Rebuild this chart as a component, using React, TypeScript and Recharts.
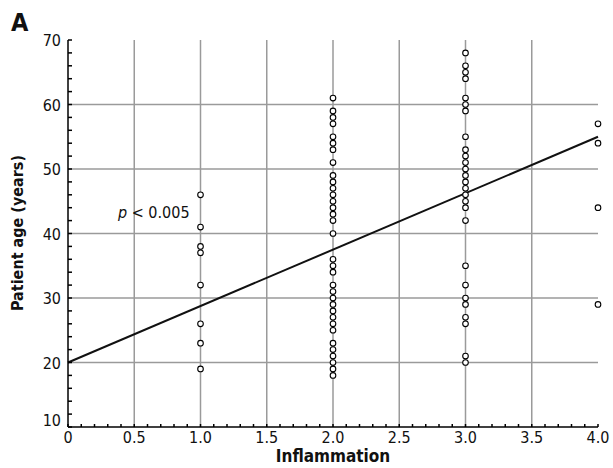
import React from 'react';
import { ScatterChart, Scatter, XAxis, YAxis, ReferenceLine } from 'recharts';

// patient ages grouped by inflammation score
const inflammationLevels = [1, 2, 3, 4];
const agesAt1 = [46, 41, 38, 37, 32, 26, 23, 19];
const agesAt2 = [61, 59, 58, 57, 55, 54, 53, 51, 49, 48, 47, 46, 45, 44, 43, 42, 40, 36, 35, 34, 32, 31, 30, 29, 28, 27, 26, 25, 23, 22, 21, 20, 19, 18];
const agesAt3 = [68, 66, 65, 64, 61, 60, 59, 55, 53, 52, 51, 50, 49, 48, 47, 46, 45, 44, 42, 35, 32, 30, 29, 27, 26, 21, 20];
const agesAt4 = [57, 54, 44, 29];

// fitted regression line end points
const fitX = [0, 4];
const fitY = [20, 55];

const xMajor = [0, 0.5, 1, 1.5, 2, 2.5, 3, 3.5, 4];
const xTickLabels = ['0', '0.5', '1.0', '1.5', '2.0', '2.5', '3.0', '3.5', '4.0'];
const yMajor = [10, 20, 30, 40, 50, 60, 70];

const groups = [agesAt1, agesAt2, agesAt3, agesAt4];
const points = groups.flatMap((ages, i) => ages.map(age => ({ x: inflammationLevels[i], y: age })));

const xMinor = Array.from({ length: 41 }, (_, i) => i / 10);
const yMinor = Array.from({ length: 31 }, (_, i) => 10 + i * 2);

const FONT = '"Liberation Sans Narrow", "DejaVu Sans Condensed", "Roboto Condensed", sans-serif';
const GRID = '#9a9a9a';

const isMajorY = (v: number) => yMajor.includes(v);

const BottomTick = ({ x, y, payload }: any) => {
  const v = payload.value;
  const idx = xMajor.findIndex(m => Math.abs(m - v) < 1e-6);
  return (
    <g>
      <line x1={x} y1={y} x2={x} y2={y - 3} stroke="#000" strokeWidth={1.5} />
      {idx >= 0 && (
        <text x={x} y={y + 16} textAnchor="middle" fontSize={16} fontFamily={FONT} fill="#111">
          {xTickLabels[idx]}
        </text>
      )}
    </g>
  );
};

const TopTick = ({ x, y }: any) => (
  <line x1={x} y1={y} x2={x} y2={y + 3} stroke="#000" strokeWidth={1.5} />
);

const LeftTick = ({ x, y, payload }: any) => (
  <g>
    <line x1={x} y1={y} x2={x + 4} y2={y} stroke="#000" strokeWidth={1.5} />
    {isMajorY(payload.value) && (
      <text x={x - 7} y={y + (payload.value === 10 ? -1 : 6)} textAnchor="end" fontSize={16} fontFamily={FONT} fill="#111">
        {payload.value}
      </text>
    )}
  </g>
);

const RightTick = ({ x, y }: any) => (
  <line x1={x} y1={y} x2={x - 4} y2={y} stroke="#000" strokeWidth={1.5} />
);

const Dot = ({ cx, cy }: any) => (
  <circle cx={cx} cy={cy} r={2.8} fill="#fff" stroke="#000" strokeWidth={1.1} />
);

export default function App() {
  return (
    <div style={{ position: 'absolute', left: 0, top: 0, width: 613, height: 468, background: '#fff', fontFamily: FONT }}>
      <ScatterChart width={613} height={468} margin={{ top: 40, right: 15, bottom: 0, left: 0 }}>
        {xMajor.filter(v => v > 0 && v < 4).map(v => (
          <ReferenceLine key={'gx' + v} x={v} stroke={GRID} strokeWidth={1.5} />
        ))}
        {yMajor.filter(v => v > 10 && v < 70).map(v => (
          <ReferenceLine key={'gy' + v} y={v} stroke={GRID} strokeWidth={1.5} />
        ))}
        <XAxis
          type="number"
          dataKey="x"
          domain={[0, 4]}
          ticks={xMinor}
          interval={0}
          height={41}
          tickSize={0}
          tickMargin={0}
          tickLine={false}
          tick={<BottomTick />}
          axisLine={{ stroke: '#000', strokeWidth: 1.5 }}
        />
        <XAxis
          xAxisId="top"
          orientation="top"
          type="number"
          dataKey="x"
          domain={[0, 4]}
          ticks={xMinor}
          interval={0}
          height={0}
          tickSize={0}
          tickMargin={0}
          tickLine={false}
          tick={<TopTick />}
          axisLine={{ stroke: '#000', strokeWidth: 1.5 }}
        />
        <YAxis
          type="number"
          dataKey="y"
          domain={[10, 70]}
          ticks={yMinor}
          interval={0}
          width={68}
          tickSize={0}
          tickMargin={0}
          tickLine={false}
          tick={<LeftTick />}
          axisLine={{ stroke: '#000', strokeWidth: 1.5 }}
        />
        <YAxis
          yAxisId="right"
          orientation="right"
          type="number"
          dataKey="y"
          domain={[10, 70]}
          ticks={yMinor}
          interval={0}
          width={0}
          tickSize={0}
          tickMargin={0}
          tickLine={false}
          tick={<RightTick />}
          axisLine={{ stroke: '#000', strokeWidth: 1.5 }}
        />
        <ReferenceLine
          segment={[{ x: fitX[0], y: fitY[0] }, { x: fitX[1], y: fitY[1] }]}
          stroke="#111"
          strokeWidth={2}
        />
        <Scatter data={points} shape={<Dot />} isAnimationActive={false} />
      </ScatterChart>
      <div style={{ position: 'absolute', left: 11, top: 10, fontSize: 25, lineHeight: '25px', fontWeight: 700, color: '#111' }}>A</div>
      <div style={{ position: 'absolute', left: 333, top: 448, transform: 'translateX(-50%)', fontSize: 17, lineHeight: '17px', fontWeight: 700, color: '#111', whiteSpace: 'nowrap' }}>
        Inflammation
      </div>
      <div style={{ position: 'absolute', left: 18, top: 233, transform: 'translate(-50%, -50%) rotate(-90deg)', fontSize: 16, lineHeight: '16px', fontWeight: 700, color: '#111', whiteSpace: 'nowrap' }}>
        Patient age (years)
      </div>
      <div style={{ position: 'absolute', left: 118, top: 205, fontSize: 16, lineHeight: '16px', color: '#111', whiteSpace: 'nowrap' }}>
        <i>p</i> &lt; 0.005
      </div>
    </div>
  );
}
